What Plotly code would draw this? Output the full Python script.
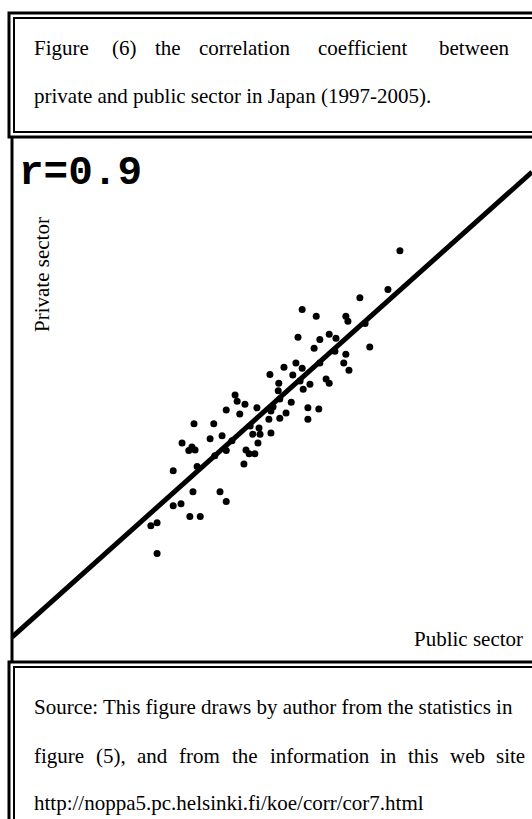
import plotly.graph_objects as go

W, H = 532, 819

# scatter values (arbitrary units, 0-100 on both axes)
public_sector = [74.6, 72.3, 66.9, 55.8, 58.5, 64.2, 64.6, 55.0, 59.2, 61.0,
                 62.3, 68.8, 58.1, 64.2, 63.8, 64.8, 49.6, 52.3, 54.6, 55.8,
                 54.0, 60.4, 61.0, 57.3, 51.3, 56.0, 51.2, 53.7, 56.9, 59.0,
                 56.9, 49.8, 52.7, 51.5, 50.2, 49.8, 49.4, 42.9, 43.3, 41.2,
                 43.8, 44.8, 47.1, 35.0, 38.8, 38.1, 40.4, 46.3, 47.5, 47.7,
                 32.7, 34.6, 35.2, 34.0, 47.3, 45.0, 45.6, 46.7, 44.6, 41.2,
                 31.0, 35.6, 34.8, 40.0, 41.2, 31.0, 32.5, 34.2, 36.2, 26.7,
                 27.9, 27.9, 67.9, 62.1, 59.2, 55.4, 51.5, 45.8, 42.3, 39.0]
private_sector = [78.5, 71.0, 69.4, 67.1, 65.8, 65.8, 64.8, 61.7, 61.3, 62.3,
                  61.5, 59.8, 59.6, 58.4, 56.7, 55.3, 54.5, 55.9, 56.7, 55.7,
                  54.4, 53.6, 52.8, 52.6, 52.8, 51.6, 51.3, 49.1, 48.0, 47.8,
                  45.8, 47.4, 47.0, 46.0, 48.2, 43.1, 45.8, 50.5, 49.3, 47.6,
                  46.8, 48.7, 48.0, 44.9, 44.9, 42.0, 42.6, 42.9, 44.1, 42.9,
                  41.2, 40.4, 39.8, 39.7, 41.2, 39.8, 39.1, 39.1, 37.1, 39.7,
                  35.8, 36.6, 31.7, 31.7, 29.8, 29.0, 29.4, 26.9, 26.9, 25.1,
                  25.7, 19.7, 64.4, 59.0, 56.7, 53.2, 49.7, 44.5, 41.6, 38.7]

fit_intercept = 3.5
fit_slope = 0.903
fit_x = [0, 100]
r_value = 0.9

title_words = ["Figure", "(6)", "the", "correlation", "coefficient", "between"]
title_word_x = [32, 110, 153, 197, 316, 437]
title_line2 = "private and public sector in Japan (1997-2005)."
source_line1 = "Source: This figure draws by author from the statistics in"
source_words2 = ["figure", "(5),", "and", "from", "the", "information", "in", "this", "web", "site"]
source_word2_x = [32, 94, 135, 177, 230, 268, 378, 406, 448, 494]
source_line3 = "http://noppa5.pc.helsinki.fi/koe/corr/cor7.html"


def px(x):
    return x / W


def py(y):
    return 1 - y / H


serif = dict(family="Liberation Serif", size=21, color="black")

fig = go.Figure()

fig.add_trace(go.Scatter(
    x = fit_x,
    y = [fit_intercept + fit_slope * v for v in fit_x],
    mode = "lines",
    line = dict(color = "black", width = 5),
    showlegend = False,
    hoverinfo = "skip"
))

fig.add_trace(go.Scatter(
    x = public_sector,
    y = private_sector,
    mode = "markers",
    marker = dict(color = "black", size = 7, symbol = "circle"),
    showlegend = False
))

# double-ruled boxes around the caption and the source note
shapes = []
for x0, y0, x1, y1, w in [(9, 13, 560, 137, 3), (14, 18, 560, 132, 2),
                          (9, 662, 560, 900, 3), (14, 667, 560, 900, 2)]:
    shapes.append(dict(type = "rect", xref = "paper", yref = "paper",
                       x0 = px(x0), x1 = px(x1), y0 = py(y1), y1 = py(y0),
                       line = dict(color = "black", width = w)))
shapes.append(dict(type = "line", xref = "paper", yref = "paper",
                   x0 = px(12), x1 = px(12), y0 = py(662), y1 = py(137),
                   line = dict(color = "black", width = 3)))

annotations = []
for word, x in zip(title_words, title_word_x):
    annotations.append(dict(text = word, x = px(x), y = py(48), xanchor = "left", yanchor = "middle"))
annotations.append(dict(text = title_line2, x = px(32), y = py(96), xanchor = "left", yanchor = "middle"))
annotations.append(dict(text = source_line1, x = px(32), y = py(707), xanchor = "left", yanchor = "middle"))
for word, x in zip(source_words2, source_word2_x):
    annotations.append(dict(text = word, x = px(x), y = py(756), xanchor = "left", yanchor = "middle"))
annotations.append(dict(text = source_line3, x = px(32), y = py(803), xanchor = "left", yanchor = "middle"))
annotations.append(dict(text = "Public sector", x = px(525), y = py(639), xanchor = "right", yanchor = "middle"))
annotations.append(dict(text = "Private sector", x = px(42), y = py(275), xanchor = "center", yanchor = "middle",
                        textangle = -90))
for a in annotations:
    a.update(xref = "paper", yref = "paper", showarrow = False, font = serif)

annotations.append(dict(text = "<b>r=" + str(r_value) + "</b>", x = px(17), y = py(173),
                        xref = "paper", yref = "paper", xanchor = "left", yanchor = "middle",
                        showarrow = False,
                        font = dict(family = "Liberation Mono", size = 41, color = "black")))

fig.update_layout(
    width = W,
    height = H,
    margin = dict(l = 0, r = 0, t = 0, b = 0),
    plot_bgcolor = "white",
    paper_bgcolor = "white",
    shapes = shapes,
    annotations = annotations,
    xaxis = dict(domain = [px(12), 1], range = [0, 100], showgrid = False, zeroline = False,
                 showticklabels = False, ticks = ""),
    yaxis = dict(domain = [py(662), py(137)], range = [-1.35, 100.6], showgrid = False, zeroline = False,
                 showticklabels = False, ticks = "")
)

# page body has an 8px default margin; drop it so the figure fills the window
fig.write_html("out.html", config = {"displayModeBar": False},
               post_script = "document.body.style.margin = '0px';")
